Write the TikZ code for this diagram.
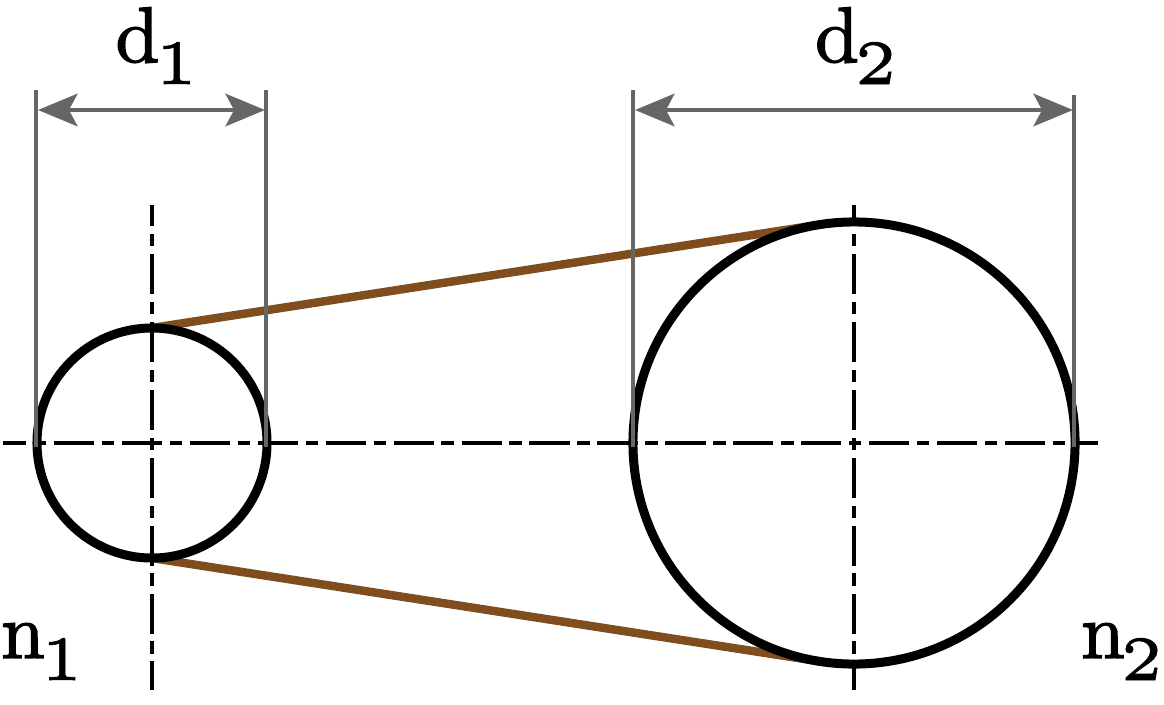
\documentclass[tikz,border=0pt]{standalone}
\usetikzlibrary{arrows.meta,positioning,backgrounds}

\definecolor{beltbrown}{HTML}{7F4D1E}
\definecolor{dimgrey}{HTML}{666666}
\newcommand{\sublabel}[2]{\special{pdf:code 2 Tr 0.18 w}$\mathrm{#1}$\special{pdf:code 0 Tr 1 w}\kern-0.6pt\raisebox{-2.8pt}{\scalebox{1.6}{\special{pdf:code 2 Tr 0.05 w}$\scriptscriptstyle #2$\special{pdf:code 0 Tr 1 w}}}}
\tikzset{
    pulley/.style={draw=black, circle, line width=6.4pt, inner sep=0pt, outer sep=0pt},
    belt/.style={draw=beltbrown, line width=6pt},
    centreline/.style={draw=black, line width=3.1pt, dash pattern=on 28.6pt off 5.4pt on 8.9pt off 5.4pt},
    witness/.style={draw=dimgrey, line width=3.2pt, shorten >=-3pt},
    dimarrow/.style={draw=dimgrey, line width=3.4pt, {Stealth[length=28pt,width=23pt,inset=6pt]}-{Stealth[length=28pt,width=23pt,inset=6pt]}},
    label/.style={inner sep=0pt, anchor=base, scale=5.6}
}

\begin{document}
\begin{tikzpicture}[x=0.025cm, y=-0.025cm]
    \useasboundingbox (0,0) rectangle (1164,704);

    \node[pulley, minimum size=5.75cm] (pulleyA) at (152,443) {};
    \node[pulley, minimum size=11.05cm] (pulleyB) at (854,443) {};

    \begin{scope}[on background layer]
        \draw[belt] (pulleyA.north) -- (pulleyB.99);
        \draw[belt] (pulleyA.south) -- (pulleyB.-99);
    \end{scope}

    \coordinate (leftEnd) at (3,443);
    \coordinate (rightEnd) at (1098,443);
    \coordinate (topA) at (152,205);
    \coordinate (botA) at (152,690);
    \coordinate (topB) at (854,205);
    \coordinate (botB) at (854,690);
    \draw[centreline, dash phase=12pt] (leftEnd) -- (rightEnd);
    \draw[centreline, dash phase=13.5pt] (topA) -- (botA);
    \draw[centreline, dash phase=13.5pt] (topB) -- (botB);

    \coordinate (d1left) at (36,90);
    \coordinate (d1right) at (266,90);
    \coordinate (d2left) at (633,90);
    \coordinate (d2right) at (1074,95);
    \draw[witness] (d1left) -- (d1left |- pulleyA.west);
    \draw[witness] (d1right) -- (d1right |- pulleyA.east);
    \draw[witness] (d2left) -- (d2left |- pulleyB.west);
    \draw[witness] (d2right) -- (d2right |- pulleyB.east);

    \coordinate (a1left) at (38,110);
    \coordinate (a1right) at (265,110);
    \coordinate (a2left) at (635,110);
    \coordinate (a2right) at (1073,110);
    \draw[dimarrow] (a1left) -- (a1right);
    \draw[dimarrow] (a2left) -- (a2right);

    \node[label] (d1) at (156.5,62) {\sublabel{d}{1}};
    \node[label] (d2) at (856,62) {\sublabel{d}{2}};
    \node[label] (n1) at (42,658) {\sublabel{n}{1}};
    \node[label] (n2) at (1122,658) {\sublabel{n}{2}};
\end{tikzpicture}
\end{document}
